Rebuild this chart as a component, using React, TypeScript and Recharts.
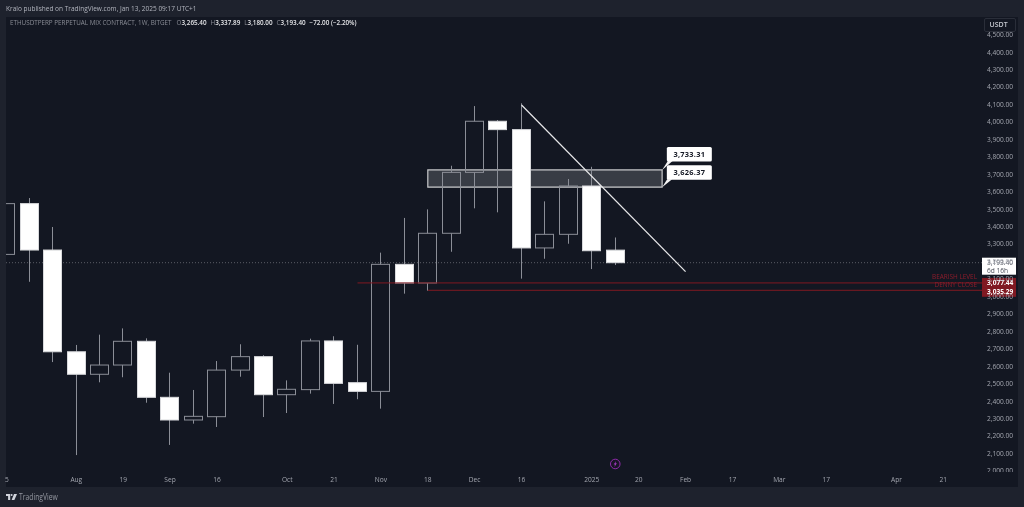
import React from 'react';
import { ComposedChart, Bar, XAxis, YAxis, ReferenceLine, ReferenceArea, ReferenceDot } from 'recharts';

const weekIndex = [0,1,2,3,4,5,6,7,8,9,10,11,12,13,14,15,16,17,18,19,20,21,22,23,24,25,26];
const opens =  [3241,3532,3266,2683,2554,2607,2743,2422,2292,2311,2578,2655,2437,2466,2745,2506,2456,3184,3077,3362,3711,4004,3956,3278,3356,3633,3265.4];
const highs =  [3543,3564,3398,2722,2781,2817,2760,2563,2464,2630,2726,2664,2519,2758,2772,2723,3251,3450,3499,3749,4091,4011,4107,3545,3673,3743,3337.89];
const lows =   [3241,3084,2624,2091,2508,2537,2391,2149,2271,2252,2540,2309,2332,2443,2384,2411,2357,3016,3033,3256,3505,3482,3102,3216,3302,3157,3180];
const closes = [3532,3266,2683,2554,2607,2743,2422,2292,2313,2578,2655,2437,2468,2745,2502,2456,3184,3077,3362,3711,4004,3956,3278,3356,3633,3262,3193.4];

const tickIndex = [0,3,5,7,9,12,14,16,18,20,22,25,27,29,31,33,35,38,40];
const tickNames = ['5','Aug','19','Sep','16','Oct','21','Nov','18','Dec','16','2025','20','Feb','17','Mar','17','Apr','21'];
const priceTicks = [2000,2100,2200,2300,2400,2500,2600,2700,2800,2900,3000,3100,3200,3300,3400,3500,3600,3700,3800,3900,4000,4100,4200,4300,4400,4500];

const lastPrice = 3193.4;
const bearishLevel = 3077.44;
const dennyClose = 3035.29;
const zoneTop = 3725;
const zoneBottom = 3626.37;
const trendStart = { x: 22, y: 4097 };
const trendEnd = { x: 29, y: 3142 };

const rows = weekIndex.map((w, i) => ({
  w, open: opens[i], high: highs[i], low: lows[i], close: closes[i], range: [lows[i], highs[i]],
}));

const UI = '"Open Sans", sans-serif';
const GREY = '#8b8e97';

function Candle(props: any) {
  const { x, y, width, height, payload } = props;
  const { open, close, high, low } = payload;
  const at = (p: number) => y + ((high - p) / (high - low)) * height;
  const up = close >= open;
  const top = at(Math.max(open, close));
  const bottom = at(Math.min(open, close));
  const cx = Math.round(x + width / 2) - 0.5;
  const lx = Math.round(x) - 0.5;
  return (
    <g>
      <line x1={cx} x2={cx} y1={y} y2={top} stroke={GREY} strokeWidth={1} />
      <line x1={cx} x2={cx} y1={bottom} y2={y + height} stroke={GREY} strokeWidth={1} />
      <rect x={lx} y={top} width={Math.round(width)} height={Math.max(bottom - top, 1)}
        fill={up ? 'none' : '#ffffff'} stroke={up ? GREY : '#d8d9dc'} strokeWidth={1} />
    </g>
  );
}

const PriceTick = (props: any) => {
  const { y, payload } = props;
  return (
    <text x={987} y={y + 2.4} fontFamily={UI} fontSize={6.6} fill="#a3a6af" clipPath="url(#axisClip)">
      {payload.value.toLocaleString('en-US', { minimumFractionDigits: 2 })}
    </text>
  );
};

const WeekTick = (props: any) => {
  const { x, payload } = props;
  const i = tickIndex.indexOf(payload.value);
  return (
    <text x={payload.value === 0 ? x + 1 : x} y={481.5} textAnchor="middle" fontFamily={UI} fontSize={6.6} fill="#a3a6af">
      {tickNames[i]}
    </text>
  );
};

const Callout = (text: string, boxY: number, tail: string) => (props: any) => {
  const { cx, cy } = props;
  return (
    <g>
      <polygon points={tail} transform={`translate(${cx},${cy})`} fill="#f5f5f5" />
      <rect x={cx + 4.7} y={cy + boxY} width={45} height={14.5} rx={1.5} fill="#ffffff" />
      <text x={cx + 27.2} y={cy + boxY + 9.8} textAnchor="middle" fontFamily={UI} fontWeight={700} fontSize={7.4} letterSpacing={0.25} fill="#131722">{text}</text>
    </g>
  );
};

const RedTag = (text: string, note: string, noteDy: number, boxTop: number, boxH: number, textDy: number) => (props: any) => {
  const { cx, cy } = props;
  return (
    <g>
      <rect x={cx} y={cy + boxTop} width={34} height={boxH} fill="#801922" />
      <text x={cx + 5} y={cy + textDy} fontFamily={UI} fontWeight={700} fontSize={6.6} fill="#ffffff">{text}</text>
      <text x={cx - 5} y={cy + noteDy} textAnchor="end" fontFamily={UI} fontSize={6.4} fill="#8f1d2c">{note}</text>
    </g>
  );
};

const LastTag = (props: any) => {
  const { cx, cy } = props;
  return (
    <g>
      <rect x={cx} y={cy - 5} width={34} height={17} fill="#ffffff" />
      <text x={cx + 5} y={cy + 2.2} fontFamily={UI} fontSize={6.6} fill="#4a4e59">3,193.40</text>
      <text x={cx + 5} y={cy + 10} fontFamily={UI} fontSize={6.6} fill="#4a4e59">6d 16h</text>
    </g>
  );
};

const Bolt = (props: any) => {
  const { cx, cy } = props;
  return (
    <g>
      <circle cx={cx} cy={cy} r={4.8} fill="#1a1426" stroke="#8e2aa8" strokeWidth={1} />
      <polygon points={`${cx + 0.9},${cy - 3} ${cx - 1.6},${cy + 0.5} ${cx - 0.2},${cy + 0.5} ${cx - 0.9},${cy + 3} ${cx + 1.6},${cy - 0.6} ${cx + 0.2},${cy - 0.6}`} fill="#a23bc0" />
    </g>
  );
};

const Val = ({ k, v }: { k: string; v: string }) => (
  <span style={{ marginRight: 4 }}>
    <span style={{ color: '#8a8d96' }}>{k}</span>
    <span style={{ color: '#e4e5e8', fontWeight: 600 }}>{v}</span>
  </span>
);

export default function App() {
  return (
    <div style={{ position: 'absolute', left: 0, top: 0, width: 1024, height: 507, background: '#1e222d', overflow: 'hidden', fontFamily: UI, filter: 'blur(0.3px)' }}>
      <div style={{ position: 'absolute', left: 6, top: 17, width: 1012, height: 470, background: '#131722' }} />
      <div style={{ position: 'absolute', left: 6, top: 3.5, fontSize: 6.5, lineHeight: '10px', color: '#b2b5be', whiteSpace: 'nowrap' }}>
        Kralo published on TradingView.com, Jan 13, 2025 09:17 UTC+1
      </div>
      <div style={{ position: 'absolute', left: 10, top: 18, fontSize: 6.3, lineHeight: '10px', whiteSpace: 'nowrap', color: '#8a8d96' }}>
        <span style={{ marginRight: 5 }}>ETHUSDTPERP PERPETUAL MIX CONTRACT, 1W, BITGET</span>
        <Val k="O" v="3,265.40" />
        <Val k="H" v="3,337.89" />
        <Val k="L" v="3,180.00" />
        <Val k="C" v="3,193.40" />
        <span style={{ color: '#e4e5e8', fontWeight: 600 }}>−72.00 (−2.20%)</span>
      </div>
      <div style={{ position: 'absolute', left: 0, top: 0 }}>
        <ComposedChart width={1024} height={507} data={rows} margin={{ top: 17, right: 6, bottom: 20, left: 6 }}>
          <defs>
            <clipPath id="axisClip" clipPathUnits="userSpaceOnUse">
              <rect x={982} y={17} width={36} height={455} />
            </clipPath>
          </defs>
          <XAxis dataKey="w" type="number" domain={[0, 41.65]} allowDataOverflow ticks={tickIndex} interval={0}
            height={15} axisLine={false} tickLine={false} tick={WeekTick} />
          <YAxis orientation="right" type="number" domain={[1994, 4601.4]} allowDataOverflow ticks={priceTicks} interval={0}
            width={36} axisLine={false} tickLine={false} tick={PriceTick} />
          <ReferenceLine y={lastPrice} stroke="#5a5d66" strokeDasharray="1 2" strokeWidth={1} zIndex={100} />
          <Bar dataKey="range" barSize={18} shape={Candle} isAnimationActive={false} />
          <ReferenceArea x1={18} x2={28} y1={zoneBottom} y2={zoneTop} ifOverflow="visible"
            fill="#ffffff" fillOpacity={0.16} stroke="#ffffff" strokeOpacity={0.75} strokeWidth={1.2} />
          <ReferenceLine segment={[trendStart, trendEnd]} stroke="#e8e8ea" strokeWidth={1.2} ifOverflow="visible" />
          <ReferenceLine segment={[{ x: 15, y: bearishLevel }, { x: 41.65, y: bearishLevel }]} stroke="#801922" strokeWidth={1} ifOverflow="visible" />
          <ReferenceLine segment={[{ x: 18, y: dennyClose }, { x: 41.65, y: dennyClose }]} stroke="#801922" strokeWidth={1} ifOverflow="visible" />
          <ReferenceDot x={28} y={zoneTop} r={1} ifOverflow="visible" shape={Callout('3,733.31', -23, '0,0 6,-9.5 11,-9.5')} />
          <ReferenceDot x={28} y={zoneBottom} r={1} ifOverflow="visible" shape={Callout('3,626.37', -22, '0,0 5,-8 10,-8')} />
          <ReferenceDot x={41.65} y={lastPrice} r={1} ifOverflow="visible" shape={LastTag} />
          <ReferenceDot x={41.65} y={bearishLevel} r={1} ifOverflow="visible" shape={RedTag('3,077.44', 'BEARISH LEVEL', -4, -5, 10, 2.2)} />
          <ReferenceDot x={41.65} y={dennyClose} r={1} ifOverflow="visible" shape={RedTag('3,035.29', 'DENNY CLOSE', -3.5, -3, 9.5, 3.5)} />
          <ReferenceDot x={26} y={2040} r={1} ifOverflow="visible" shape={Bolt} />
        </ComposedChart>
      </div>
      <div style={{ position: 'absolute', left: 984, top: 17.5, width: 32, height: 14, boxSizing: 'border-box', border: '1px solid #2a2e39', background: '#131722', borderRadius: 2, color: '#c4c7cf', fontSize: 7, fontWeight: 600, lineHeight: '12px', paddingLeft: 4.5 }}>USDT</div>
      <svg style={{ position: 'absolute', left: 6, top: 494 }} width={11} height={7} viewBox="0 0 11 7">
        <path d="M0 0H4.2V6H2.1V2H0Z" fill="#d1d4dc" />
        <circle cx={5.6} cy={1} r={1} fill="#d1d4dc" />
        <path d="M8 0H11L8.4 6H5.6Z" fill="#d1d4dc" />
      </svg>
      <div style={{ position: 'absolute', left: 19, top: 491, fontSize: 8.2, lineHeight: '12px', color: '#9598a1', transformOrigin: 'left center', transform: 'scaleX(0.83)' }}>TradingView</div>
    </div>
  );
}
